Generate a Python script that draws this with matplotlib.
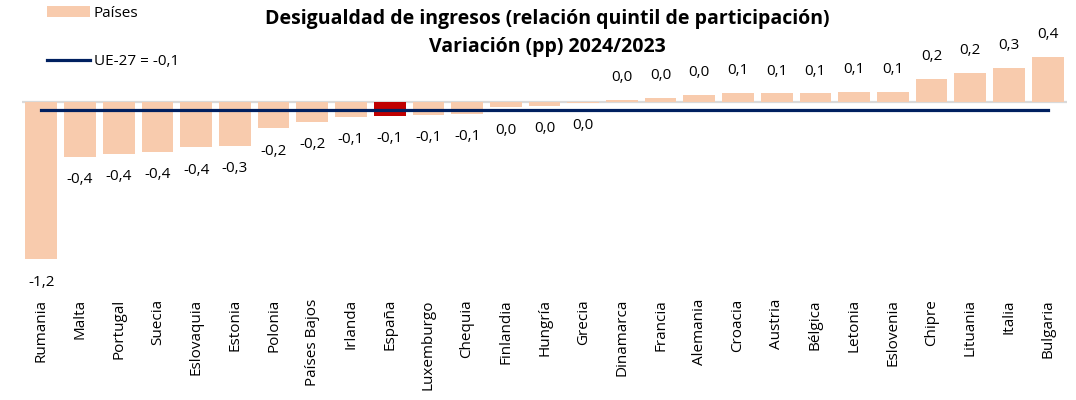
import matplotlib
matplotlib.use('Agg')
import matplotlib.pyplot as plt
from matplotlib.patches import Patch
from matplotlib.lines import Line2D

plt.rcParams['font.family'] = ['Open Sans', 'DejaVu Sans']

paises = ['Rumania', 'Malta', 'Portugal', 'Suecia', 'Eslovaquia', 'Estonia', 'Polonia',
          'Países Bajos', 'Irlanda', 'España', 'Luxemburgo', 'Chequia', 'Finlandia',
          'Hungría', 'Grecia', 'Dinamarca', 'Francia', 'Alemania', 'Croacia', 'Austria',
          'Bélgica', 'Letonia', 'Eslovenia', 'Chipre', 'Lituania', 'Italia', 'Bulgaria']
variacion = [-1.20, -0.418, -0.395, -0.382, -0.346, -0.333, -0.201, -0.15, -0.112,
             -0.104, -0.10, -0.089, -0.041, -0.028, -0.005, 0.015, 0.03, 0.053, 0.072,
             0.066, 0.066, 0.076, 0.076, 0.176, 0.222, 0.26, 0.346]
etiquetas = ['-1,2', '-0,4', '-0,4', '-0,4', '-0,4', '-0,3', '-0,2', '-0,2', '-0,1',
             '-0,1', '-0,1', '-0,1', '0,0', '0,0', '0,0', '0,0', '0,0', '0,0', '0,1',
             '0,1', '0,1', '0,1', '0,1', '0,2', '0,2', '0,3', '0,4']
ue27 = -0.058

c_bar = '#F8CBAD'
c_esp = '#C00000'
c_ue = '#002060'

fig = plt.figure(figsize=(10.76, 4.0), dpi=100)
ax = fig.add_axes([22 / 1076, 0.28, 1045 / 1076, 0.6125])

x = list(range(len(paises)))
colores = [c_esp if p == 'España' else c_bar for p in paises]
ax.bar(x, variacion, width=0.82, color=colores, zorder=2)
ax.axhline(0, color='#D9D9D9', lw=1.6, zorder=1)
ax.plot([x[0], x[-1]], [ue27, ue27], color=c_ue, lw=2.3, zorder=3)

for xi, v, t in zip(x, variacion, etiquetas):
    off = 16 if v > 0 else -16.5
    ax.annotate(t, (xi, v), xytext=(0, off), textcoords='offset points',
                ha='center', va='center', fontsize=11, color='#000000',
                annotation_clip=False)

ax.set_xlim(-0.5, 26.5)
ax.set_ylim(-1.42, 0.45)
ax.set_xticks(x)
ax.set_xticklabels(paises, rotation=90, fontsize=11)
ax.tick_params(axis='x', length=0, pad=8)
ax.set_yticks([])
for s in ax.spines.values():
    s.set_visible(False)

fig.text(0.509, 0.953, 'Desigualdad de ingresos (relación quintil de participación)',
         ha='center', va='center', fontsize=14, fontweight='bold')
fig.text(0.509, 0.883, 'Variación (pp) 2024/2023',
         ha='center', va='center', fontsize=14, fontweight='bold')

handles = [Patch(facecolor=c_bar, edgecolor='none'),
           Line2D([0], [0], color=c_ue, lw=2.3)]
fig.legend(handles, ['Países', 'UE-27 = -0,1'], loc='upper left',
           bbox_to_anchor=(0.031, 1.02), frameon=False, fontsize=11,
           handlelength=2.8, labelspacing=2.2, handletextpad=0.25)

fig.savefig('out.png', dpi=100)
